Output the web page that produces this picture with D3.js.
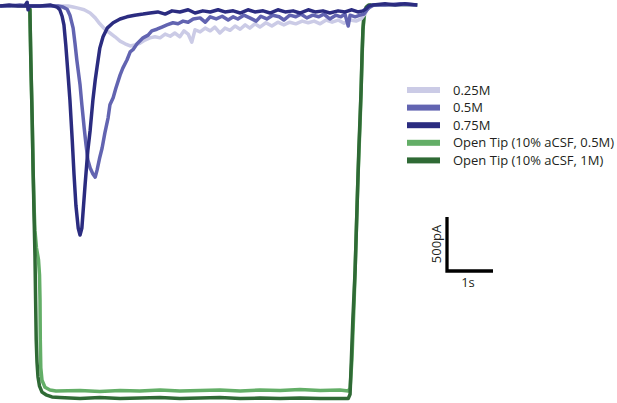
<!DOCTYPE html>
<html>
<head>
<meta charset="utf-8">
<script src="https://cdn.jsdelivr.net/npm/d3@7"></script>
<style>
  html, body { margin: 0; padding: 0; background: #ffffff; }
  svg { display: block; }
</style>
</head>
<body>
<svg id="chart" width="617" height="403"></svg>
<script>
// ---------------- DATA (time in s, current in pA) ----------------
const seriesNames = ["0.25M", "0.5M", "0.75M", "Open Tip (10% aCSF, 0.5M)", "Open Tip (10% aCSF, 1M)"];
const seriesColors = ["#cbcbe6", "#6264b1", "#2b2c80", "#63ae67", "#2f6a35"];

// 0.25M
const time025 = [0, 0.43, 0.87, 1.30, 1.48, 1.59, 1.70, 1.83, 1.96, 2.07, 2.17, 2.28, 2.39, 2.50, 2.61, 2.72, 2.83, 2.93, 3.04, 3.15, 3.26, 3.37, 3.48, 3.59, 3.70, 3.80, 3.91, 4.00, 4.09, 4.17, 4.24, 4.35, 4.46, 4.57, 4.67, 4.78, 4.89, 5.00, 5.11, 5.22, 5.33, 5.43, 5.54, 5.65, 5.78, 5.91, 6.04, 6.17, 6.30, 6.43, 6.57, 6.70, 6.83, 6.96, 7.09, 7.22, 7.35, 7.48, 7.61, 7.74, 7.85, 7.93, 8.00, 8.09, 8.48, 9.07];
const current025 = [0, 0, 0, 0, 0, -10, -20, -35, -65, -110, -165, -215, -250, -285, -325, -350, -370, -360, -345, -315, -295, -285, -295, -260, -280, -250, -285, -230, -260, -335, -220, -240, -205, -230, -195, -250, -205, -225, -185, -215, -175, -205, -165, -195, -155, -185, -150, -175, -150, -165, -140, -155, -140, -165, -130, -150, -130, -160, -130, -140, -120, -75, -20, 10, 10, 10];

// 0.5M
const time05 = [0, 0.22, 0.43, 0.65, 0.87, 1.09, 1.26, 1.37, 1.46, 1.52, 1.59, 1.63, 1.67, 1.74, 1.78, 1.83, 1.87, 1.91, 1.96, 2.02, 2.07, 2.11, 2.17, 2.22, 2.28, 2.35, 2.39, 2.46, 2.52, 2.61, 2.67, 2.76, 2.83, 2.89, 2.98, 3.11, 3.22, 3.30, 3.41, 3.52, 3.63, 3.76, 3.87, 3.98, 4.09, 4.20, 4.35, 4.46, 4.57, 4.70, 4.83, 4.96, 5.07, 5.17, 5.30, 5.43, 5.57, 5.67, 5.80, 5.93, 6.07, 6.17, 6.30, 6.43, 6.54, 6.67, 6.80, 6.93, 7.04, 7.17, 7.30, 7.41, 7.50, 7.57, 7.61, 7.72, 7.83, 7.91, 7.98, 8.04, 8.13, 8.37, 8.70, 9.07];
const current05 = [0, 0, 10, 0, 0, 0, 0, -10, -30, -85, -205, -345, -500, -730, -915, -1130, -1285, -1425, -1500, -1555, -1585, -1520, -1400, -1315, -1175, -1035, -915, -850, -760, -640, -575, -500, -425, -405, -350, -295, -270, -230, -215, -195, -175, -155, -165, -140, -150, -120, -110, -150, -100, -120, -95, -130, -100, -120, -85, -110, -140, -95, -120, -85, -100, -130, -85, -100, -75, -110, -85, -100, -75, -120, -85, -100, -75, -185, -85, -100, -85, -75, -35, -10, 10, 10, 20, 10];

// 0.75M
const time075 = [0, 0.20, 0.39, 0.54, 0.59, 0.61, 0.63, 0.87, 1.09, 1.24, 1.30, 1.35, 1.39, 1.43, 1.48, 1.52, 1.57, 1.61, 1.65, 1.70, 1.74, 1.78, 1.85, 1.91, 1.96, 2.02, 2.07, 2.11, 2.17, 2.24, 2.33, 2.46, 2.61, 2.76, 2.93, 3.11, 3.26, 3.43, 3.59, 3.74, 3.91, 4.09, 4.24, 4.41, 4.57, 4.74, 4.89, 5.07, 5.22, 5.39, 5.54, 5.72, 5.87, 6.04, 6.20, 6.37, 6.52, 6.70, 6.85, 7.02, 7.17, 7.35, 7.50, 7.65, 7.78, 7.89, 7.96, 8.02, 8.11, 8.37, 8.59, 8.80, 9.07];
const current075 = [0, 10, 0, 0, 35, -35, 0, 0, 10, -10, -35, -95, -175, -360, -640, -870, -1240, -1565, -1845, -2055, -2120, -2055, -1655, -1335, -1150, -870, -685, -565, -390, -285, -205, -155, -120, -100, -85, -75, -65, -55, -75, -45, -55, -35, -65, -45, -55, -35, -55, -45, -65, -35, -55, -45, -65, -35, -55, -45, -65, -35, -55, -45, -65, -45, -55, -35, -55, -45, -25, 0, 10, 20, 10, 20, 10];

// Open Tip (10% aCSF, 0.5M)
const timeTip05 = [0, 0.63, 0.65, 0.67, 0.70, 0.72, 0.74, 0.76, 0.793, 0.837, 0.859, 0.870, 0.876, 0.887, 0.913, 0.978, 1.087, 1.217, 1.74, 2.17, 2.61, 3.04, 3.48, 3.91, 4.35, 4.78, 5.22, 5.65, 6.09, 6.52, 6.96, 7.39, 7.57, 7.61, 7.65, 7.70, 7.74, 7.78, 7.83, 7.87, 7.89, 7.93, 8.00, 8.09, 9.07];
const currentTip05 = [0, 0, -35, -500, -1055, -1520, -1845, -2080, -2240, -2350, -2490, -2720, -3090, -3350, -3465, -3530, -3555, -3565, -3560, -3570, -3560, -3565, -3555, -3565, -3560, -3555, -3565, -3555, -3560, -3550, -3560, -3555, -3565, -3540, -3280, -2720, -2165, -1610, -1055, -500, -220, -55, 0, 10, 10];

// Open Tip (10% aCSF, 1M)
const timeTip1 = [0, 0.63, 0.65, 0.67, 0.70, 0.72, 0.74, 0.76, 0.774, 0.787, 0.804, 0.826, 0.859, 0.913, 1.00, 1.13, 1.30, 1.74, 2.17, 2.61, 3.04, 3.48, 3.91, 4.35, 4.78, 5.22, 5.65, 6.09, 6.52, 6.96, 7.39, 7.57, 7.61, 7.63, 7.67, 7.72, 7.76, 7.80, 7.85, 7.87, 7.89, 7.91, 7.96, 8.02, 8.48, 9.07];
const currentTip1 = [0, 0, -35, -500, -1055, -1520, -1935, -2305, -2720, -3090, -3295, -3435, -3520, -3575, -3600, -3620, -3625, -3635, -3625, -3635, -3630, -3625, -3635, -3630, -3625, -3635, -3630, -3635, -3630, -3635, -3635, -3635, -3595, -3370, -2910, -2445, -1890, -1335, -780, -455, -220, -85, -10, 10, 10, 10];

// scale bar values
const scaleBarTime = 1;      // s
const scaleBarCurrent = 500; // pA
const scaleBarLabels = ["1s", "500pA"];

// ---------------- DRAW ----------------
const FONT = "'Open Sans', sans-serif";
const FS = 13;
const svg = d3.select("#chart");

const x = d3.scaleLinear().domain([0, 9]).range([0, 414]);
const y = d3.scaleLinear().domain([0, -500]).range([6, 60]);

const traces = [
  { name: seriesNames[3], color: seriesColors[3], t: timeTip05, v: currentTip05 },
  { name: seriesNames[4], color: seriesColors[4], t: timeTip1, v: currentTip1 },
  { name: seriesNames[0], color: seriesColors[0], t: time025, v: current025 },
  { name: seriesNames[1], color: seriesColors[1], t: time05, v: current05 },
  { name: seriesNames[2], color: seriesColors[2], t: time075, v: current075 }
];

const line = d3.line()
  .x(d => x(d[0]))
  .y(d => y(d[1]));

svg.append("g").selectAll("path")
  .data(traces)
  .join("path")
  .attr("d", d => line(d.t.map((t, i) => [t, d.v[i]])))
  .attr("fill", "none")
  .attr("stroke", d => d.color)
  .attr("stroke-width", 3.5)
  .attr("stroke-linejoin", "round")
  .attr("stroke-linecap", "butt");

// Legend
const legend = svg.append("g").attr("transform", "translate(407,90)");
const rows = legend.selectAll("g")
  .data(seriesNames.map((n, i) => ({ name: n, color: seriesColors[i] })))
  .join("g")
  .attr("transform", (d, i) => `translate(0,${i * 17.6})`);
rows.append("rect")
  .attr("x", 0).attr("y", -3).attr("width", 33).attr("height", 6)
  .attr("fill", d => d.color);
rows.append("text")
  .attr("x", 46).attr("y", 4.6)
  .attr("font-family", FONT)
  .attr("font-size", FS)
  .attr("fill", "#231f20")
  .text(d => d.name);

// Scale bar
const sb = svg.append("g").attr("transform", "translate(447,271)");
const barH = y(-scaleBarCurrent) - y(0);
const barW = x(scaleBarTime) - x(0);
sb.append("path")
  .attr("d", `M0,${-barH} V0 H${barW}`)
  .attr("fill", "none")
  .attr("stroke", "#000")
  .attr("stroke-width", 3.3)
  .attr("stroke-linejoin", "miter");
sb.append("text")
  .attr("x", barW / 2 - 2).attr("y", 16)
  .attr("text-anchor", "middle")
  .attr("font-family", FONT)
  .attr("font-size", FS)
  .attr("fill", "#231f20")
  .text(scaleBarLabels[0]);
sb.append("text")
  .attr("transform", `translate(-6,${-barH / 2}) rotate(-90)`)
  .attr("text-anchor", "middle")
  .attr("font-family", FONT)
  .attr("font-size", FS)
  .attr("fill", "#231f20")
  .text(scaleBarLabels[1]);
</script>
</body>
</html>
